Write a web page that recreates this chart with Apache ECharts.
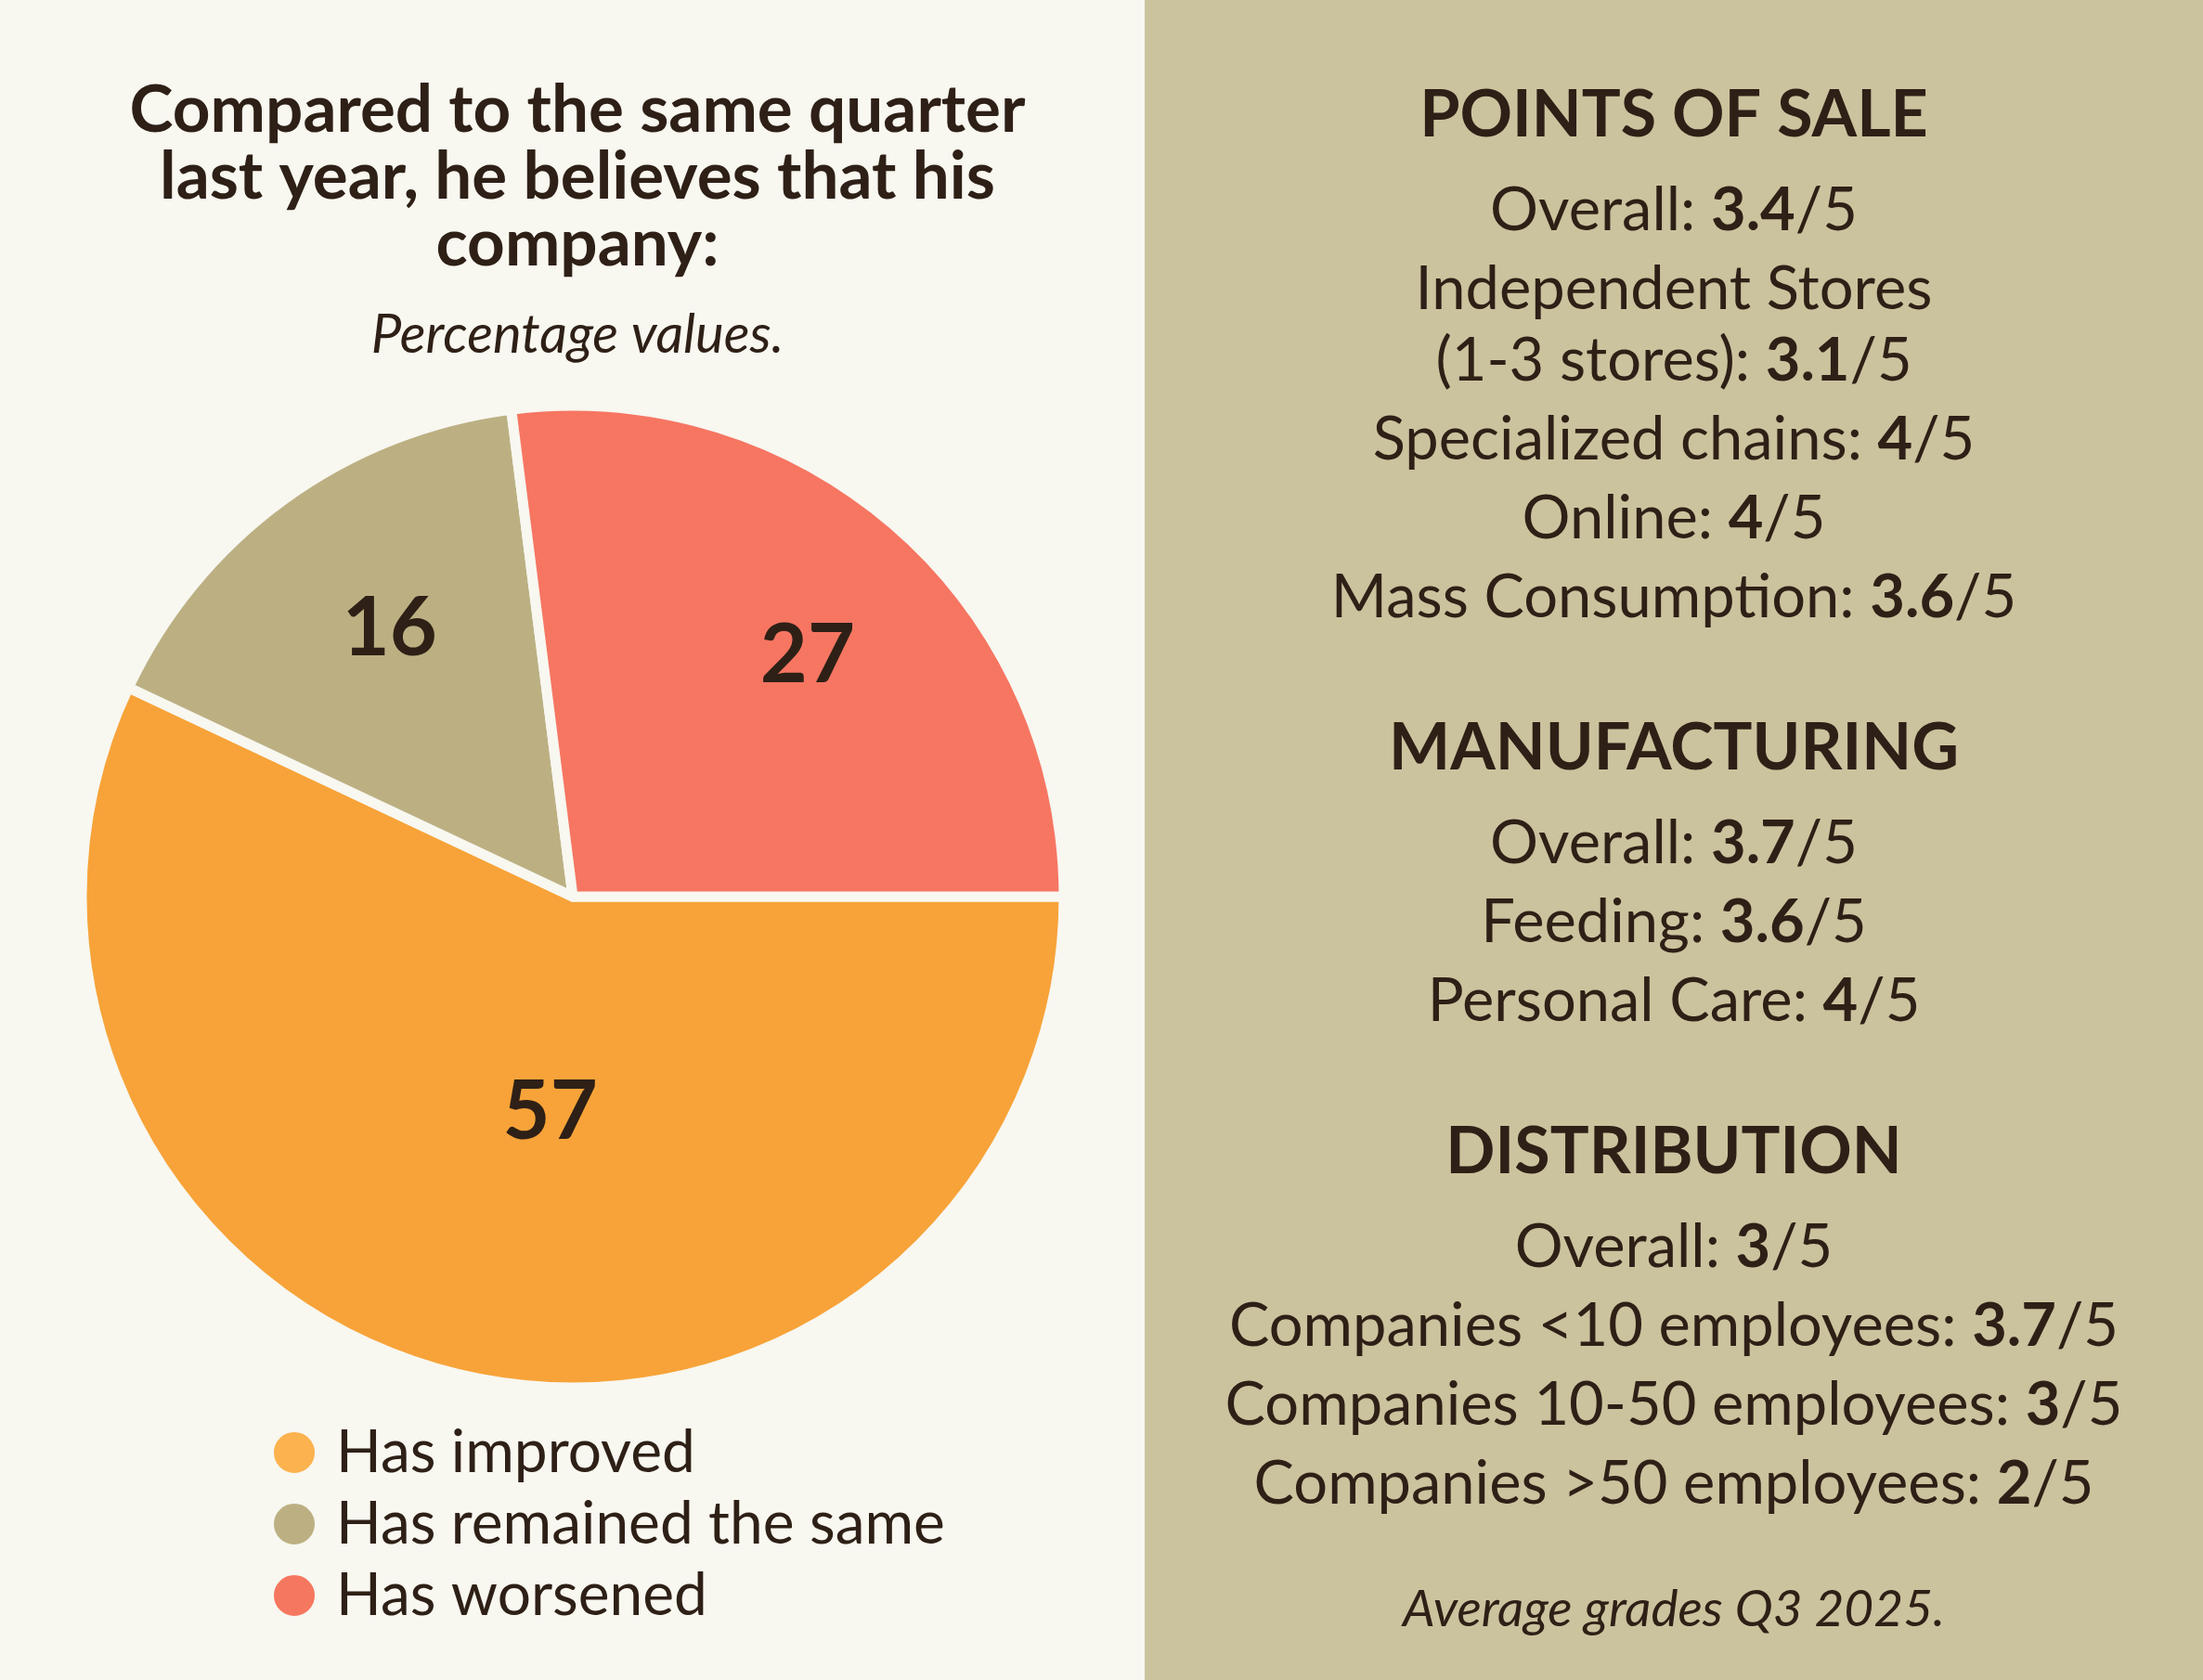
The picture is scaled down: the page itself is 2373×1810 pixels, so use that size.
<!DOCTYPE html>
<html>
<head>
<meta charset="utf-8">
<script src="https://cdn.jsdelivr.net/npm/echarts@6/dist/echarts.min.js"></script>
<style>
  html, body { margin: 0; padding: 0; background: #f8f7f0; }
  #chart { width: 2373px; height: 1810px; }
</style>
</head>
<body>
<div id="chart"></div>
<script>
// pie data
const pieNames = ['Has improved', 'Has remained the same', 'Has worsened']
const pieValues = [57, 16, 27]

// right panel: average grades
const sectionTitles = ['POINTS OF SALE', 'MANUFACTURING', 'DISTRIBUTION']
const posItems = ['Overall', 'Independent Stores\n(1-3 stores)', 'Specialized chains', 'Online', 'Mass Consumption']
const posGrades = ['3.4', '3.1', '4', '4', '3.6']
const mfgItems = ['Overall', 'Feeding', 'Personal Care']
const mfgGrades = ['3.7', '3.6', '4']
const distItems = ['Overall', 'Companies <10 employees', 'Companies 10-50 employees', 'Companies >50 employees']
const distGrades = ['3', '3.7', '3', '2']

const FONT = 'Lato'
const INK = '#2e2016'
const sliceColors = ['#f7a339', '#bcb083', '#f67662']
const legendColors = ['#fcb24e', '#bcb083', '#f6775f']
// nudges so the numbers sit where the reference puts them
const labelNudge = [[34, -28], [-40, -72], [76, -59]]

const chart = echarts.init(document.getElementById('chart'))

function panelText(){
    const sections = [
        { items: posItems, grades: posGrades },
        { items: mfgItems, grades: mfgGrades },
        { items: distItems, grades: distGrades },
    ]
    const cx = 1803
    const out = []
    const line = (text, y, size, weight, style) => ({
        type: 'text',
        x: cx,
        y: y,
        style: {
            text: text,
            fill: INK,
            fontFamily: FONT,
            fontSize: size,
            fontWeight: weight,
            fontStyle: style || 'normal',
            align: 'center',
            verticalAlign: 'middle',
            rich: {
                b: { fontFamily: FONT, fontSize: size, fontWeight: 'bold', fill: INK }
            }
        }
    })
    let y = 124
    sections.forEach((sec, s) => {
        out.push(line(sectionTitles[s], y, 70, 'bold'))
        y += 103
        sec.items.forEach((label, i) => {
            const parts = label.split('\n')
            parts.forEach((p, k) => {
                const last = k === parts.length - 1
                out.push(line(last ? `${p}: {b|${sec.grades[i]}}/5` : p, y, 65, 'normal'))
                y += last ? 85 : 77
            })
        })
        y += 77
    })
    out.push(line('Average grades Q3 2025.', 1734, 55, 'normal', 'italic'))
    return out
}

const option = {
    backgroundColor: '#f8f7f0',
    animation: false,
    title: [
        {
            text: 'Compared to the same quarter\nlast year, he believes that his\ncompany:',
            left: 617,
            top: 78,
            textAlign: 'center',
            textStyle: {
                fontFamily: FONT,
                fontSize: 71,
                fontWeight: 'bold',
                lineHeight: 72,
                color: INK
            }
        },
        {
            text: 'Percentage values.',
            left: 617,
            top: 328,
            textAlign: 'center',
            textStyle: {
                fontFamily: FONT,
                fontSize: 58,
                fontStyle: 'italic',
                fontWeight: 'normal',
                lineHeight: 56,
                color: INK
            }
        }
    ],
    legend: {
        orient: 'vertical',
        left: 288,
        top: 1528,
        icon: 'circle',
        itemWidth: 46,
        itemHeight: 46,
        itemGap: 13,
        selectedMode: false,
        textStyle: {
            fontFamily: FONT,
            fontSize: 64,
            lineHeight: 46,
            color: INK,
            padding: [0, 0, 0, 17]
        },
        data: pieNames.map((n, i) => ({ name: n, itemStyle: { color: legendColors[i] } }))
    },
    graphic: [
        {
            type: 'rect',
            shape: { x: 1233, y: 0, width: 1140, height: 1810 },
            style: { fill: '#cbc39e' }
        },
        ...panelText()
    ],
    series: [
        {
            type: 'pie',
            center: [617, 966],
            radius: 529,
            startAngle: 0,
            clockwise: true,
            avoidLabelOverlap: false,
            itemStyle: {
                borderColor: '#f8f7f0',
                borderWidth: 11
            },
            label: {
                show: true,
                position: 'inside',
                formatter: '{c}',
                fontFamily: FONT,
                fontSize: 88,
                fontWeight: 'bold',
                color: INK,
                textBorderWidth: 0
            },
            labelLine: { show: false },
            labelLayout: (params) => ({
                dx: labelNudge[params.dataIndex][0],
                dy: labelNudge[params.dataIndex][1]
            }),
            emphasis: { disabled: true },
            data: pieNames.map((n, i) => ({
                name: n,
                value: pieValues[i],
                itemStyle: { color: sliceColors[i] }
            }))
        }
    ]
}

chart.setOption(option)
</script>
</body>
</html>
